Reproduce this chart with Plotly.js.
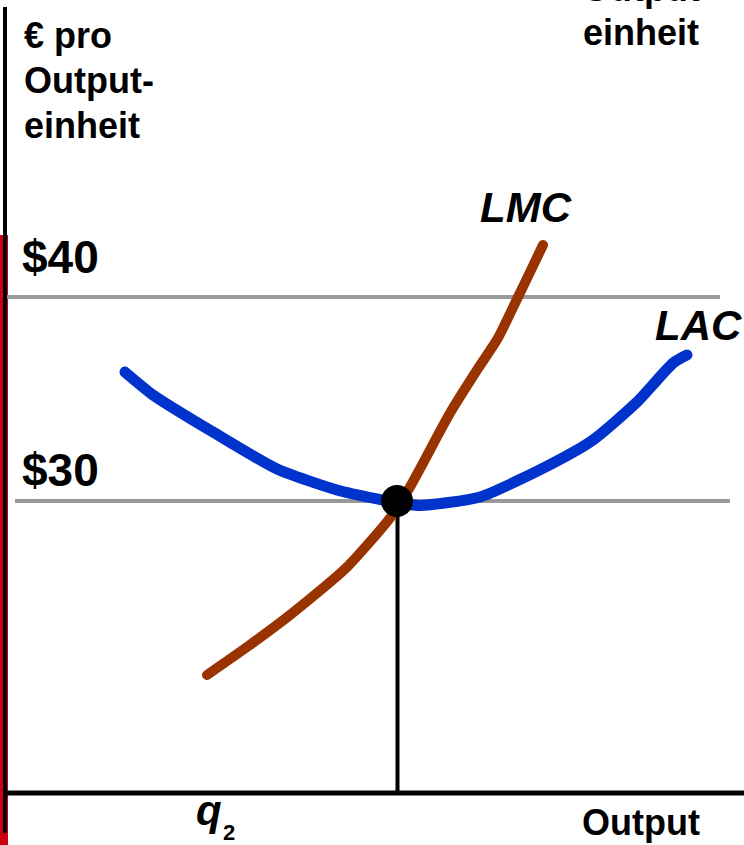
<!DOCTYPE html>
<html>
<head>
<meta charset="utf-8">
<script src="https://cdn.plot.ly/plotly-3.0.1.min.js"></script>
<style>html,body{margin:0;padding:0;background:#fff;}#chart{width:744px;height:845px;}</style>
</head>
<body>
<div id="chart"></div>
<script>
// ---- data (output units, € per unit) ----
const lacX = [12.5, 15.3, 21.3, 27.7, 33.7, 37.7, 40.5, 42.0, 48.0, 55.3, 59.3, 63.7, 67.3, 68.7];
const lacY = [36.32, 35.20, 33.38, 31.57, 30.54, 30.10, 29.85, 29.78, 30.20, 31.86, 32.99, 34.85, 36.76, 37.16];
const lmcX = [20.7, 24.7, 29.0, 34.7, 39.0, 41.0, 45.0, 47.7, 49.8, 51.8, 53.1, 54.3];
const lmcY = [21.47, 22.84, 24.41, 26.76, 29.17, 30.69, 34.31, 36.42, 37.99, 40.0, 41.32, 42.55];
const eqX = [39.7];
const eqY = [30];
const priceLevels = [40, 30];
const priceLabels = ['$40', '$30'];

// ---- pixel helpers for layout placement ----
const W = 744, H = 845;
const Y0 = 30, PY0 = 501, PXPERUNIT = 20.4;
const X = px => px / 10;
const Y = py => Y0 + (PY0 - py) / PXPERUNIT;
const yMin = Y(H), yMax = Y(0);
const FONT = 'Liberation Sans, Arial, Helvetica, sans-serif';

const traces = [
  {x: lacX, y: lacY, mode: 'lines', line: {color: '#0033cc', width: 11, shape: 'spline', smoothing: 0.6}, hoverinfo: 'skip'},
  {x: lmcX, y: lmcY, mode: 'lines', line: {color: '#993300', width: 10, shape: 'spline', smoothing: 0.6}, hoverinfo: 'skip'},
  {x: eqX, y: eqY, mode: 'markers', marker: {color: '#000', size: 32}, hoverinfo: 'skip'}
];

const shapes = [
  {type: 'rect', xref: 'paper', yref: 'paper', x0: 0, x1: 8 / W, y0: 0, y1: 1 - 235 / H, fillcolor: '#cc0011', line: {width: 0}, layer: 'below'},
  {type: 'line', xref: 'x', yref: 'y', x0: X(5), x1: X(720), y0: priceLevels[0], y1: priceLevels[0], line: {color: '#999999', width: 4}, layer: 'below'},
  {type: 'line', xref: 'x', yref: 'y', x0: X(15), x1: X(730), y0: priceLevels[1], y1: priceLevels[1], line: {color: '#999999', width: 4}, layer: 'below'},
  {type: 'line', xref: 'x', yref: 'y', x0: eqX[0] + 0.05, x1: eqX[0] + 0.05, y0: eqY[0], y1: Y(793), line: {color: '#000', width: 4}, layer: 'below'},
  {type: 'line', xref: 'x', yref: 'y', x0: X(5), x1: X(5), y0: Y(7), y1: Y(833), line: {color: '#000', width: 4}},
  {type: 'line', xref: 'x', yref: 'y', x0: X(5), x1: X(744), y0: Y(793), y1: Y(793), line: {color: '#000', width: 5}}
];

function txt(text, pxl, pyc, size, opts) {
  return Object.assign({
    text: text, xref: 'paper', yref: 'paper', x: pxl / W, y: 1 - pyc / H, xanchor: 'left', yanchor: 'middle',
    showarrow: false, font: {family: FONT, size: size, color: '#000', weight: 'bold'}
  }, opts || {});
}
const BI = size => ({font: {family: FONT, size: size, color: '#000', weight: 'bold', style: 'italic'}});

const annotations = [
  txt('€ pro', 22, 35.5, 36),
  txt('Output-', 22, 80.5, 36),
  txt('einheit', 22, 125.5, 36),
  txt('Output', 641, -11, 36, {xanchor: 'center'}),
  txt('einheit', 641, 32.5, 36, {xanchor: 'center'}),
  txt(priceLabels[0], 20, 257, 46),
  txt(priceLabels[1], 20, 470, 46),
  txt('LMC', 478, 207.5, 42, BI(42)),
  txt('LAC', 653, 325.5, 42, BI(42)),
  txt('q', 194, 810, 42, BI(42)),
  txt('2', 221, 832, 22),
  txt('Output', 580, 822.5, 36)
];

const layout = {
  width: W, height: H,
  margin: {l: 0, r: 0, t: 0, b: 0, pad: 0},
  paper_bgcolor: '#fff', plot_bgcolor: '#fff',
  showlegend: false,
  xaxis: {range: [0, W / 10], visible: false, fixedrange: true},
  yaxis: {range: [yMin, yMax], visible: false, fixedrange: true},
  shapes: shapes,
  annotations: annotations
};

Plotly.newPlot('chart', traces, layout, {displayModeBar: false, staticPlot: true}).then(() => {
  document.querySelectorAll('.scatterlayer .js-line').forEach(p => {
    p.style.strokeLinecap = 'round';
    p.style.strokeLinejoin = 'round';
  });
});
</script>
</body>
</html>
